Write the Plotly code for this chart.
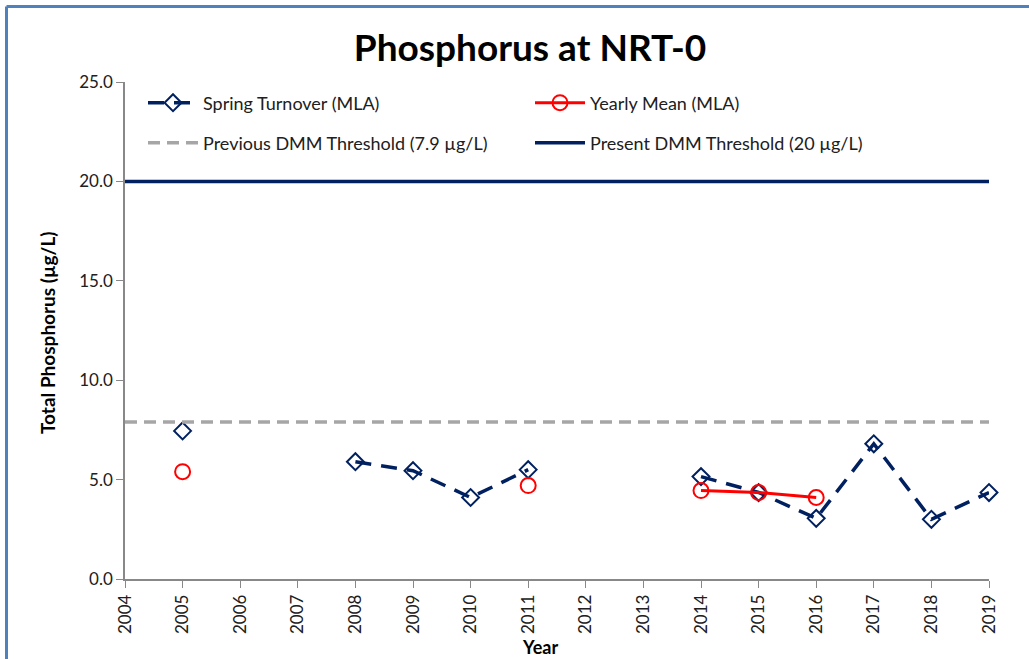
import plotly.graph_objects as go

years_spring = [2005, 2006, 2007, 2008, 2009, 2010, 2011, 2012, 2013, 2014, 2015, 2016, 2017, 2018, 2019]
spring_turnover = [7.45, None, None, 5.9, 5.45, 4.1, 5.5, None, None, 5.15, 4.35, 3.05, 6.8, 3.0, 4.35]

years_mean = [2005, 2006, 2007, 2008, 2009, 2010, 2011, 2012, 2013, 2014, 2015, 2016]
yearly_mean = [5.4, None, None, None, None, None, 4.7, None, None, 4.45, 4.35, 4.1]

threshold_years = [2004, 2019]
previous_threshold = 7.9
present_threshold = 20.0

x_ticks = list(range(2004, 2020))
y_ticks = [0, 5, 10, 15, 20, 25]

NAVY = "#002060"
FONT = "Lato"

fig = go.Figure()
fig.add_trace(go.Scatter(
    x=years_spring, y=spring_turnover, name="Spring Turnover (MLA)",
    mode="lines+markers", connectgaps=False,
    line=dict(color=NAVY, width=3.5, dash="16px,10px"),
    marker=dict(symbol="diamond-open", size=13, color=NAVY, line=dict(width=2, color=NAVY)),
    legend="legend", cliponaxis=False,
))
fig.add_trace(go.Scatter(
    x=years_mean, y=yearly_mean, name="Yearly Mean (MLA)",
    mode="lines+markers", connectgaps=False,
    line=dict(color="#FF0000", width=3),
    marker=dict(symbol="circle-open", size=15, color="#FF0000", line=dict(width=2, color="#FF0000")),
    legend="legend", cliponaxis=False,
))
fig.add_trace(go.Scatter(
    x=threshold_years, y=[previous_threshold] * 2, name="Previous DMM Threshold (7.9 µg/L)",
    mode="lines", line=dict(color="#A6A6A6", width=3.5, dash="12px,7px"),
    legend="legend2",
))
fig.add_trace(go.Scatter(
    x=threshold_years, y=[present_threshold] * 2, name="Present DMM Threshold (20 µg/L)",
    mode="lines", line=dict(color=NAVY, width=3.5),
    legend="legend2",
))

L, R, T, B = 125, 40, 82, 80
W, H = 1029, 659
pw, ph = W - L - R, H - T - B

def px(xp):
    return (xp - L) / pw

def py(yp):
    return 1 - (yp - T) / ph

legend_common = dict(
    orientation="h", xanchor="left", yanchor="middle",
    entrywidth=322, entrywidthmode="pixels",
    font=dict(family=FONT, size=18, color="#202020"),
    bgcolor="rgba(0,0,0,0)", itemwidth=50,
)

fig.update_layout(
    width=W, height=H,
    margin=dict(l=L, r=R, t=T, b=B),
    paper_bgcolor="white", plot_bgcolor="white",
    font=dict(family=FONT, color="#202020"),
    title=dict(text="<b>Phosphorus at NRT-0</b>", x=530 / W, xanchor="center",
               y=1 - 48 / H, yanchor="middle", yref="container",
               font=dict(family=FONT, size=37, color="black")),
    legend=dict(x=px(143), y=py(103), **legend_common),
    legend2=dict(x=px(143), y=py(143), **legend_common),
    xaxis=dict(range=[2004, 2019], tickvals=x_ticks, ticktext=[str(v) for v in x_ticks],
               tickangle=-90, ticks="outside", ticklen=7, tickcolor="#888888",
               showline=True, linecolor="#888888", linewidth=1.5, showgrid=False,
               zeroline=False, tickfont=dict(family=FONT, size=17, color="#202020")),
    yaxis=dict(range=[0, 25], tickvals=y_ticks, tickformat=".1f",
               ticks="outside", ticklen=7, tickcolor="#888888",
               showline=True, linecolor="#888888", linewidth=1.5, showgrid=False,
               zeroline=False, tickfont=dict(family=FONT, size=17, color="#202020")),
    showlegend=True,
)

fig.add_annotation(text="<b>Year</b>", xref="paper", yref="paper", x=px(540), y=py(647),
                   showarrow=False, xanchor="center", yanchor="middle",
                   font=dict(family=FONT, size=18, color="black"))
fig.add_annotation(text="<b>Total Phosphorus (µg/L)</b>", xref="paper", yref="paper",
                   x=px(47), y=py(333), textangle=-90, showarrow=False,
                   xanchor="center", yanchor="middle",
                   font=dict(family=FONT, size=19, color="black"))

# outer chart frame (top and left edges visible in the reference)
fig.add_shape(type="line", xref="paper", yref="paper", x0=px(6.5), x1=px(1035),
              y0=py(6.5), y1=py(6.5), line=dict(color="#4F81BD", width=3))
fig.add_shape(type="line", xref="paper", yref="paper", x0=px(6.5), x1=px(6.5),
              y0=py(6.5), y1=py(670), line=dict(color="#4F81BD", width=3))

fig.write_html(
    "out.html",
    config={"displayModeBar": False},
    post_script="document.body.style.margin='0';document.body.style.overflow='hidden';",
)
